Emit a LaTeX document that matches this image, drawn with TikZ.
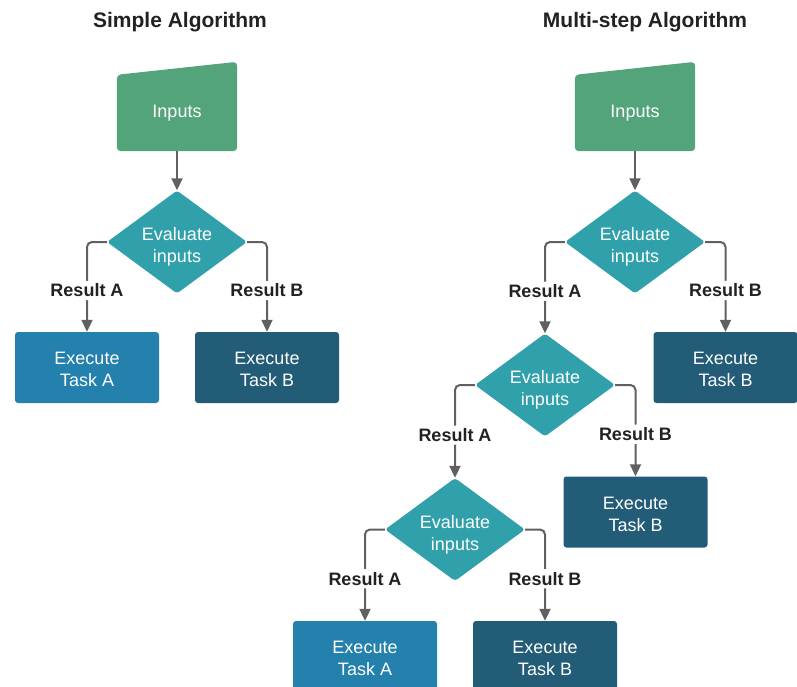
\documentclass[tikz,border=0pt]{standalone}
\usepackage{fontspec}
\setmainfont{Liberation Sans}
\usetikzlibrary{shapes.geometric,arrows.meta}
\definecolor{ingreen}{HTML}{53A47A}
\definecolor{decteal}{HTML}{30A0AA}
\definecolor{taskA}{HTML}{2480AC}
\definecolor{taskB}{HTML}{225C77}
\definecolor{conngray}{HTML}{606060}
\definecolor{labtext}{HTML}{222222}
\begin{document}
\begin{tikzpicture}[x=1pt,y=-1pt,
  body/.style={font=\fontsize{18}{22}\selectfont},
  inbox/.style={body, minimum width=120pt, minimum height=76pt, inner sep=0pt, text=white},
  dec/.style={diamond, fill=decteal, minimum width=140pt, minimum height=103pt, inner sep=0pt, rounded corners=3pt},
  dectext/.style={body, text=white, align=center, inner sep=0pt, yshift=-5pt},
  taskbox/.style={body, rectangle, rounded corners=3pt, minimum width=144pt, minimum height=71pt, inner sep=0pt, align=center, text=white},
  tasktext/.style={body, text=white, align=center, inner sep=0pt, yshift=-2pt},
  conn/.style={draw=conngray, line width=2pt, -{Triangle[width=11pt,length=12pt]}, rounded corners=5pt},
  lab/.style={fill=white, font=\bfseries\fontsize{18}{22}\selectfont, text=labtext, inner sep=3pt, pos=0.77},
  title/.style={font=\bfseries\fontsize{21}{25}\selectfont, text=labtext}
]
\useasboundingbox (0,0) rectangle (797,687);

% titles
\node[title] (t1) at (180,22) {Simple Algorithm};
\node[title] (t2) at (645,22) {Multi-step Algorithm};

% left chart
\node[inbox] (in1) at (177,113) {};
\fill[ingreen, rounded corners=4pt] (in1.south west) -- (in1.north west) -- ([yshift=13pt]in1.north east) -- (in1.south east) -- cycle;
\node[inbox] at (in1) {Inputs};
\node[dec] (d1) at (177,242) {};
\node[dectext] at (d1) {Evaluate\\inputs};
\node[taskbox, fill=taskA] (a1) at (87,367.5) {};
\node[tasktext] at (a1) {Execute\\Task A};
\node[taskbox, fill=taskB] (b1) at (267,367.5) {};
\node[tasktext] at (b1) {Execute\\Task B};
\draw[conn] (in1.south) -- (d1.north);
\draw[conn] (d1.west) -| node[lab] {Result A} (a1.north);
\draw[conn] (d1.east) -| node[lab] {Result B} (b1.north);

% right chart
\node[inbox] (in2) at (635,113) {};
\fill[ingreen, rounded corners=4pt] (in2.south west) -- (in2.north west) -- ([yshift=13pt]in2.north east) -- (in2.south east) -- cycle;
\node[inbox] at (in2) {Inputs};
\node[dec] (e1) at (635,242) {};
\node[dectext] at (e1) {Evaluate\\inputs};
\node[taskbox, fill=taskB] (f1) at (725.5,367.5) {};
\node[tasktext] at (f1) {Execute\\Task B};
\node[dec] (e2) at (545,385) {};
\node[dectext] at (e2) {Evaluate\\inputs};
\node[taskbox, fill=taskB] (f2) at (635.5,512) {};
\node[tasktext] at (f2) {Execute\\Task B};
\node[dec] (e3) at (455,529.5) {};
\node[dectext] at (e3) {Evaluate\\inputs};
\node[taskbox, fill=taskA] (g3) at (365,656.5) {};
\node[tasktext] at (g3) {Execute\\Task A};
\node[taskbox, fill=taskB] (f3) at (545,656.5) {};
\node[tasktext] at (f3) {Execute\\Task B};
\draw[conn] (in2.south) -- (e1.north);
\draw[conn] (e1.west) -| node[lab] {Result A} (e2.north);
\draw[conn] (e1.east) -| node[lab] {Result B} (f1.north);
\draw[conn] (e2.west) -| node[lab] {Result A} (e3.north);
\draw[conn] (e2.east) -| node[lab] {Result B} (f2.north);
\draw[conn] (e3.west) -| node[lab] {Result A} (g3.north);
\draw[conn] (e3.east) -| node[lab] {Result B} (f3.north);
\end{tikzpicture}
\end{document}
